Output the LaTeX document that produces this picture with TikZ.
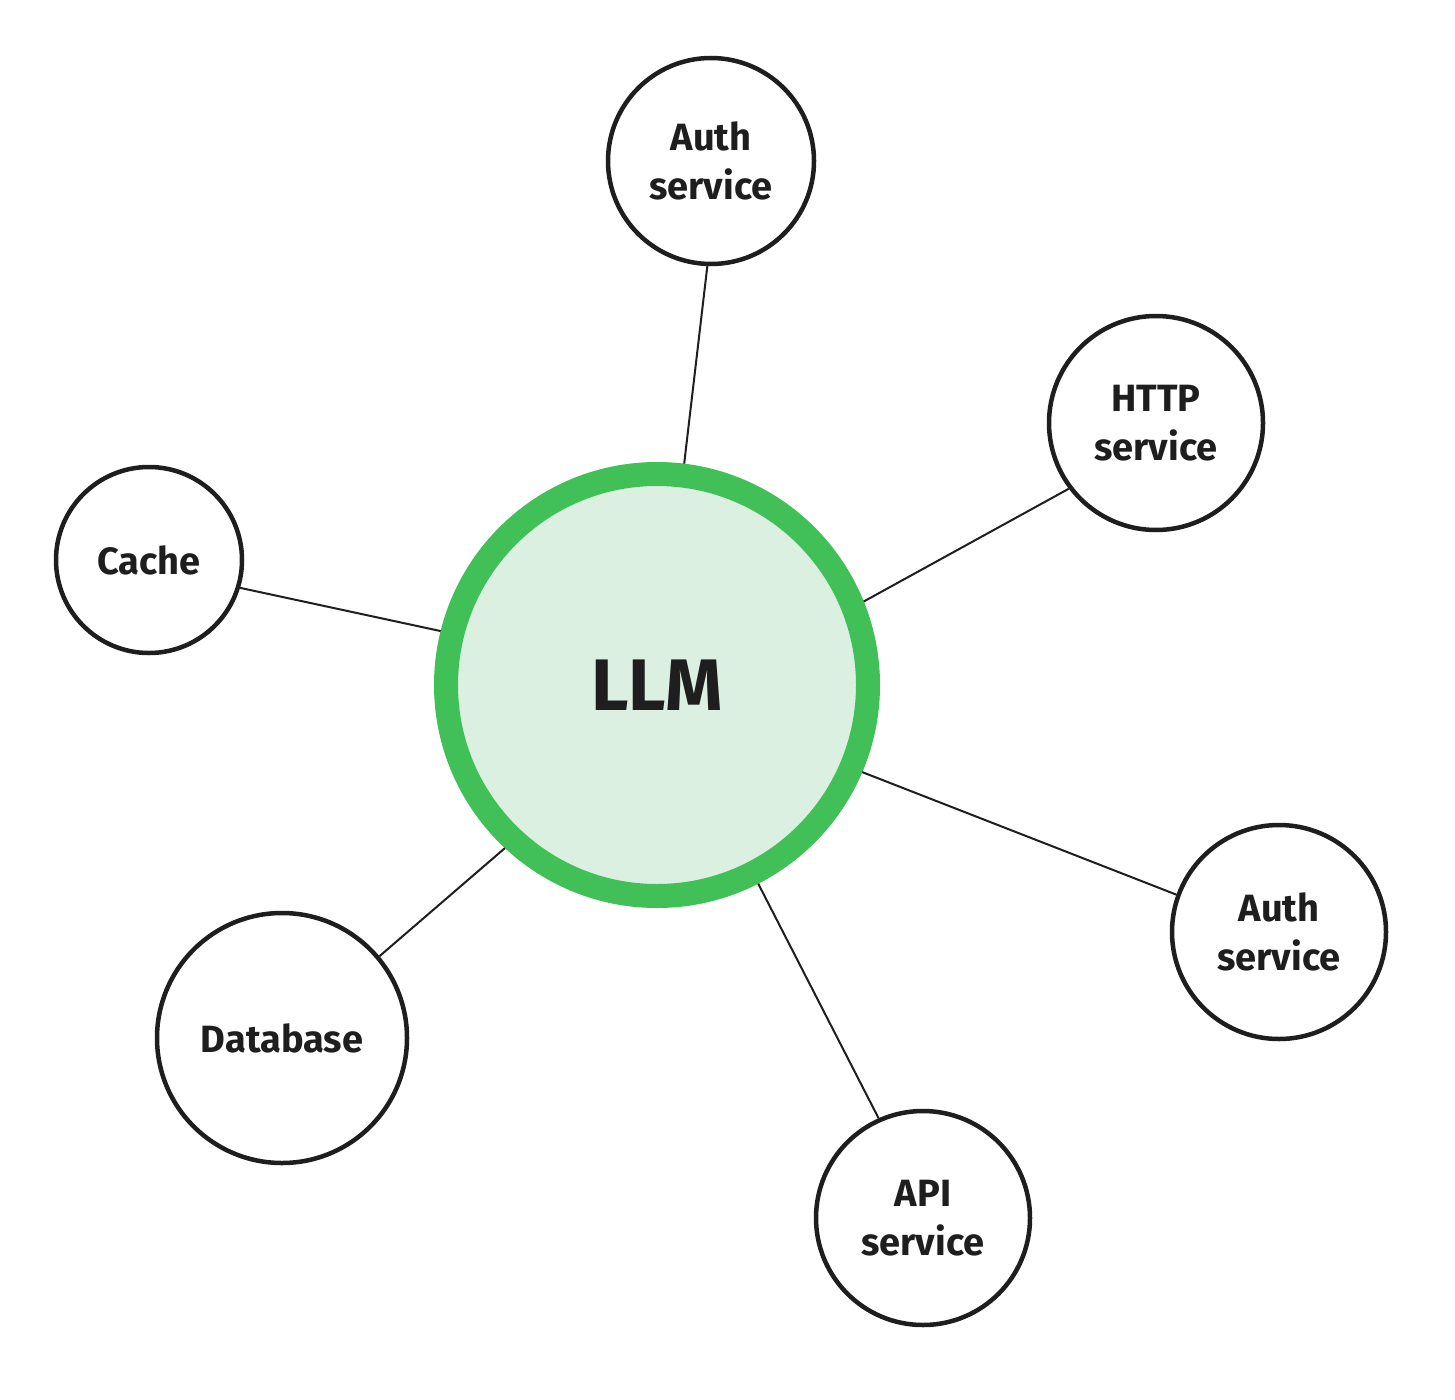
\documentclass[tikz,border=0pt]{standalone}
\usepackage{fontspec}
\setmainfont{Fira Sans}
\definecolor{ink}{HTML}{1E1E1E}
\definecolor{llmgreen}{HTML}{40C057}
\definecolor{llmfill}{HTML}{DCF0E1}
\begin{document}
\begin{tikzpicture}[x=1pt,y=-1pt,
  svc/.style={circle, draw=ink, line width=4.5pt, fill=white, align=center, text=ink,
    font=\fontsize{38}{49}\selectfont\bfseries, inner sep=0pt},
  link/.style={draw=ink, line width=2pt}]
\useasboundingbox[fill=white] (0,0) rectangle (1455,1399);
\node[circle, draw=llmgreen, fill=llmfill, line width=24pt, minimum size=422pt, inner sep=0pt,
  text=ink, font=\fontsize{73}{80}\selectfont\bfseries] (llm) at (657,685) {LLM};
\node[svc, minimum size=206pt] (auth1) at (711,161) {Auth\\service};
\node[svc, minimum size=214pt] (http) at (1156,423) {HTTP\\service};
\node[svc, minimum size=186pt] (cache) at (149,560) {Cache};
\node[svc, minimum size=250pt] (db) at (282,1038) {Database};
\node[svc, minimum size=214pt] (auth2) at (1279,932) {Auth\\service};
\node[svc, minimum size=214pt] (api) at (923,1218) {API\\service};
\draw[link] (llm.83) -- (auth1.268);
\draw[link] (llm.22) -- (http.217);
\draw[link] (llm.166) -- (cache.343);
\draw[link] (llm.227) -- (db.40);
\draw[link] (llm.337) -- (auth2.160);
\draw[link] (llm.297) -- (api.114);
\end{tikzpicture}
\end{document}
